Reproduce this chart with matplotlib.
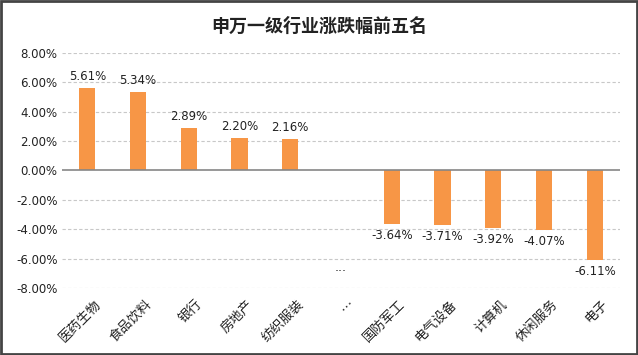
import matplotlib
matplotlib.use("Agg")
import matplotlib.pyplot as plt
import matplotlib.transforms as mtransforms
import numpy as np

plt.rcParams['font.family'] = ['Noto Sans CJK SC', 'DejaVu Sans']

categories = ["医药生物", "食品饮料", "银行", "房地产", "纺织服装", "…",
              "国防军工", "电气设备", "计算机", "休闲服务", "电子"]
values = [5.61, 5.34, 2.89, 2.20, 2.16, np.nan, -3.64, -3.71, -3.92, -4.07, -6.11]
yticks = [8, 6, 4, 2, 0, -2, -4, -6, -8]
title = "申万一级行业涨跌幅前五名"

fig = plt.figure(figsize=(6.38, 3.55), dpi=100)
ax = fig.add_axes([0.097, 0.189, 0.875, 0.662])

x = np.arange(len(categories))
vals = np.array(values, dtype=float)
ax.bar(x, np.nan_to_num(vals), width=0.32, color="#F79646", zorder=3)

for xi, v in zip(x, vals):
    if np.isnan(v):
        ax.text(xi, -6.6, "...", ha="center", va="center", fontsize=9,
                family="DejaVu Sans", color="#222222")
        continue
    if v >= 0:
        ax.text(xi, v + 0.35, f"{v:.2f}%", ha="center", va="bottom", fontsize=8.5,
                family="DejaVu Sans", color="#222222")
    else:
        ax.text(xi, v - 0.35, f"{v:.2f}%", ha="center", va="top", fontsize=8.5,
                family="DejaVu Sans", color="#222222")

ax.set_ylim(-8, 8)
ax.set_xlim(-0.5, len(categories) - 0.5)
ax.set_yticks(yticks)
ax.set_yticklabels([f"{t:.2f}%" for t in yticks], family="DejaVu Sans", fontsize=8.5,
                   color="#222222")
ax.set_xticks(x)
ax.set_xticklabels(categories, rotation=45, ha="right", rotation_mode="anchor",
                   fontsize=9.5, color="#222222")
ax.tick_params(axis="both", length=0, pad=3)
ax.tick_params(axis="x", pad=7)
offset = mtransforms.ScaledTranslation(7 / 100, 0, fig.dpi_scale_trans)
for lbl in ax.get_xticklabels():
    lbl.set_transform(lbl.get_transform() + offset)

for t in yticks:
    if t == 0:
        ax.axhline(0, color="#868686", lw=1.2, zorder=4)
    else:
        ax.axhline(t, color="#C8C8C8", lw=0.8, ls=(0, (3, 2)), zorder=1)

for s in ax.spines.values():
    s.set_visible(False)

fig.text(0.5, 0.925, title, ha="center", va="center", fontsize=13, fontweight="bold",
         color="#222222")

border = plt.Rectangle((0.002, 0.003), 0.996, 0.994, transform=fig.transFigure,
                       fill=False, edgecolor="#444444", lw=2)
fig.patches.append(border)

fig.savefig("out.png", dpi=100, facecolor="white")
